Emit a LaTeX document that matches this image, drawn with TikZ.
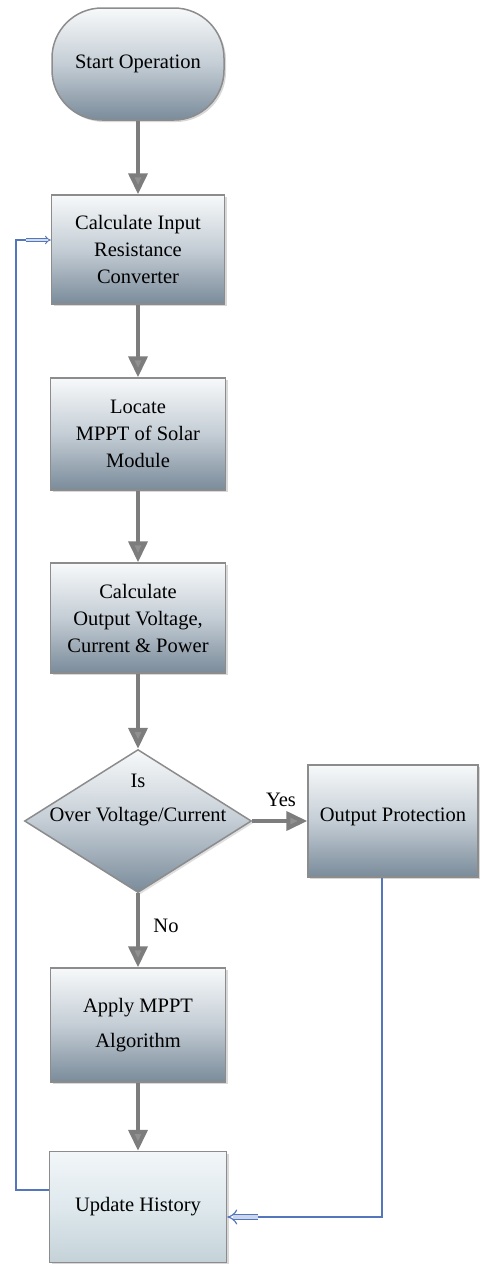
\documentclass[tikz,border=0pt]{standalone}
\usepackage{fontspec}
\setmainfont{Liberation Serif}
\usetikzlibrary{arrows.meta,shapes.geometric,shadows}
\definecolor{boxtop}{RGB}{247,249,250}
\definecolor{boxmid}{RGB}{196,205,213}
\definecolor{boxbot}{RGB}{122,139,154}
\definecolor{uhtop}{RGB}{242,246,248}
\definecolor{uhmid}{RGB}{222,232,237}
\definecolor{uhbot}{RGB}{196,210,216}
\definecolor{boxedge}{RGB}{140,140,140}
\definecolor{flowgray}{RGB}{125,125,125}
\definecolor{fbblue}{RGB}{84,118,188}
\begin{document}
\begin{tikzpicture}[x=1pt,y=1pt,
  txt/.style={font=\fontsize{20.5}{27}\selectfont, align=center, text=black},
  shade3/.style={top color=boxtop, bottom color=boxbot, middle color=boxmid},
  procbox/.style={rectangle, draw=boxedge, line width=1.5pt, shade3,
    drop shadow={shadow xshift=2pt,shadow yshift=-2pt,fill=black!30},
    inner sep=0pt, minimum width=175pt, minimum height=110pt, txt},
  termbox/.style={procbox, rounded corners=50pt, minimum width=172pt, minimum height=112pt},
  decision/.style={diamond, draw=boxedge, line width=1.5pt, shade3,
    drop shadow={shadow xshift=2pt,shadow yshift=-2pt,fill=black!25},
    inner sep=0pt, minimum width=227pt, minimum height=143pt},
  flow/.style={draw=flowgray, line width=4pt,
    -{Triangle[width=19pt,length=21pt,fill=flowgray!85]}},
  fb/.style={draw=fbblue, line width=1.3pt},
  fbdbl/.style={draw=fbblue, line width=0.9pt, double=fbblue!25, double distance=2pt, -{Implies}},
  fbdblbig/.style={draw=fbblue, line width=1.2pt, double=fbblue!30, double distance=4pt, -{Implies}},
  lbl/.style={font=\fontsize{20.5}{27}\selectfont, text=black, inner sep=0pt}
]
\useasboundingbox (0,0) rectangle (480,-1264);

% nodes
\node[termbox] (start) at (138,-64) {Start Operation};
\node[procbox, minimum width=173pt, minimum height=109pt] (b1) at (138,-249.5)
  {Calculate Input\\Resistance\\Converter};
\node[procbox, minimum height=112pt] (b2) at (138,-434)
  {Locate\\MPPT of  Solar\\Module};
\node[procbox] (b3) at (138,-618)
  {\raisebox{8pt}{\parbox{170pt}{\centering Calculate\\Output Voltage,\\Current \& Power}}};
\node[decision] (d) at (138,-821) {};
\node[txt, inner sep=0pt] (dt) at (138,-800) {Is\\[7pt]Over Voltage/Current};
\node[procbox, minimum width=170pt, minimum height=112pt] (op) at (393,-821)
  {\raisebox{12pt}{Output Protection}};
\node[procbox, minimum height=114pt] (b5) at (138,-1025)
  {\raisebox{-6pt}{\parbox{170pt}{\centering Apply MPPT\\[8pt]Algorithm}}};
\node[procbox, minimum width=177pt, minimum height=111pt,
  top color=uhtop, bottom color=uhbot, middle color=uhmid] (uh) at (138,-1207)
  {Update History};

\node[lbl] (yes) at (281,-800) {Yes};
\node[lbl] (no) at (166,-926) {No};

% main flow
\draw[flow] (start) -- (b1);
\draw[flow] (b1) -- (b2);
\draw[flow] (b2) -- (b3);
\draw[flow] (b3) -- (d);
\draw[flow] (d) -- (op);
\draw[flow] (d) -- (b5);
\draw[flow] (b5) -- (uh);

% feedback loop (left)
\coordinate (fbA) at (16,-1190);
\coordinate (fbB) at (16,-240);
\coordinate (c1) at (26,-240);
\draw[fb] (uh.west |- fbA) -- (fbA) -- (fbB) -- (c1);
\draw[fbdbl] (c1) -- (b1.west |- c1);

% output protection return (right)
\coordinate (opB) at (382,-1217);
\coordinate (c2) at (258,-1217);
\draw[fb] (op.south -| opB) -- (opB) -- (c2);
\draw[fbdblbig] (c2) -- (uh.east |- c2);
\end{tikzpicture}
\end{document}
